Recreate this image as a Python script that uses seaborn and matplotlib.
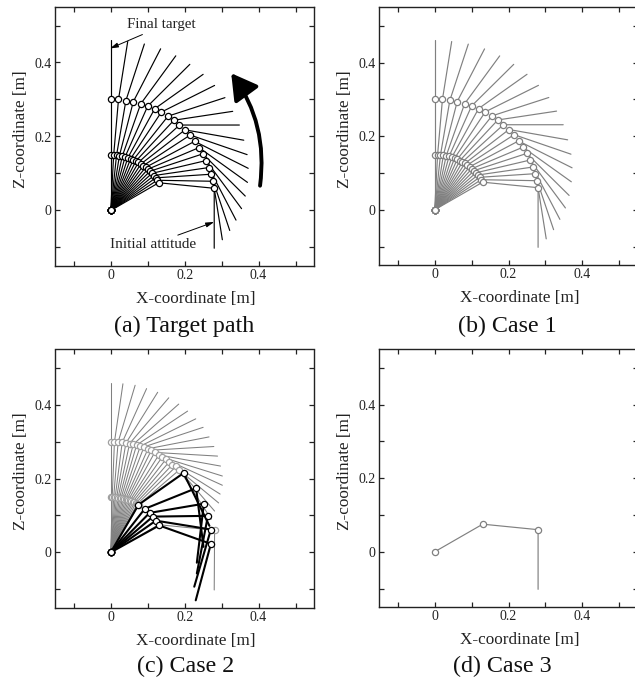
import numpy as np
import pandas as pd
import matplotlib
matplotlib.use("Agg")
import matplotlib.pyplot as plt
import seaborn as sns

# ---- target path (panels a, b): last pose = initial attitude
target_j1_x = [0, .0079, .0157, .0235, .0312, .0388, .0464, .0538, .0610, .0681, .0750, .0817, .0882, .0944, .1004, .1061, .1115, .1166, .1214, .1258, .1299]
target_j1_z = [.150, .1498, .1492, .1482, .1467, .1449, .1427, .1400, .1370, .1337, .1299, .1258, .1214, .1166, .1115, .1061, .1004, .0944, .0882, .0817, .0750]
target_j2_x = [0, .021, .041, .061, .081, .100, .119, .137, .155, .171, .186, .201, .215, .227, .239, .249, .258, .265, .271, .277, .280]
target_j2_z = [.300, .300, .297, .294, .288, .282, .275, .266, .255, .244, .231, .218, .204, .187, .170, .153, .135, .116, .098, .079, .060]
target_tip_x = [0, .046, .091, .135, .176, .214, .250, .281, .309, .330, .348, .360, .369, .372, .370, .364, .354, .339, .322, .302, .280]
target_tip_z = [.461, .457, .450, .437, .418, .395, .368, .338, .305, .268, .231, .190, .151, .114, .076, .039, .005, -.026, -.054, -.079, -.102]

# ---- case 2 reference path (grey)
case2_ref_j1_x = [0, .004, .008, .012, .016, .020, .024, .028, .032, .036, .040, .044, .048, .052, .056, .060, .064, .068, .072, .076, .130]
case2_ref_j1_z = [.150, .150, .1498, .1495, .1492, .1487, .1481, .1474, .1466, .1456, .1446, .1434, .1421, .1407, .1392, .1375, .1357, .1337, .1316, .1293, .075]
case2_ref_j2_x = [0, .010, .020, .031, .041, .051, .061, .070, .080, .090, .101, .110, .119, .130, .139, .149, .158, .167, .177, .186, .281]
case2_ref_j2_z = [.299, .299, .299, .298, .296, .295, .293, .291, .288, .286, .281, .277, .271, .264, .258, .252, .245, .238, .233, .224, .060]
case2_ref_tip_x = [0, .033, .066, .097, .127, .157, .184, .208, .230, .250, .266, .279, .289, .297, .302, .302, .296, .292, .281, .272, .280]
case2_ref_tip_z = [.459, .457, .453, .444, .434, .419, .402, .383, .362, .339, .313, .287, .261, .234, .207, .182, .158, .134, .112, .090, -.102]

# ---- case 2 result (black)
case2_j1_x = [.075, .092, .105, .114, .122, .131]
case2_j1_z = [.129, .118, .107, .097, .086, .073]
case2_j2_x = [.197, .231, .252, .263, .271, .271]
case2_j2_z = [.215, .174, .132, .099, .062, .023]
case2_tip_x = [.267, .251, .233, .233, .226, .230]
case2_tip_z = [.072, .015, -.028, -.057, -.093, -.130]

# ---- case 3: only the initial pose
case3_j1_x = [.130]
case3_j1_z = [.075]
case3_j2_x = [.280]
case3_j2_z = [.060]
case3_tip_x = [.280]
case3_tip_z = [-.102]

captions = ["(a) Target path", "(b) Case 1", "(c) Case 2", "(d) Case 3"]
x_label = "X-coordinate [m]"
z_label = "Z-coordinate [m]"
tick_major = [0, 0.2, 0.4]
tick_minor = [-0.1, 0.1, 0.3, 0.5]

W, H = 635, 679
sns.set_theme(style="ticks")
plt.rcParams["font.family"] = ["Liberation Serif", "DejaVu Serif"]


def frame(j1x, j1z, j2x, j2z, tx, tz):
    rows = []
    for i in range(len(j1x)):
        rows += [(i, 0.0, 0.0), (i, j1x[i], j1z[i]), (i, j2x[i], j2z[i]), (i, tx[i], tz[i])]
    return pd.DataFrame(rows, columns=["pose", "x", "z"])


def draw(ax, df, color, lw, z, edge=None):
    sns.lineplot(data=df, x="x", y="z", units="pose", estimator=None, sort=False,
                 color=color, lw=lw, ax=ax, zorder=z, legend=False)
    joints = df.groupby("pose").head(3)
    sns.scatterplot(data=joints, x="x", y="z", s=20, facecolor="white", edgecolor=edge or color,
                    linewidth=0.9, ax=ax, zorder=z + 0.5, legend=False)


def make_axes(l, r, t, b):
    ax = plt.gcf().add_axes([l / W, 1 - b / H, (r - l) / W, (b - t) / H])
    ax.set_xlim(-0.15, 0.55)
    ax.set_ylim(-0.15, 0.55)
    for axis in (ax.xaxis, ax.yaxis):
        axis.set_ticks(tick_major)
        axis.set_ticklabels(["0", "0.2", "0.4"])
        axis.set_ticks(tick_minor, minor=True)
    ax.tick_params(which="both", direction="in", top=True, right=True, length=3.6, width=0.9,
                   color="#222222", labelsize=10, labelcolor="#222222")
    ax.tick_params(axis="x", which="both", pad=2.2)
    ax.tick_params(axis="y", which="both", pad=2.8)
    for s in ax.spines.values():
        s.set_linewidth(1.0)
        s.set_color("#222222")
        s.set_visible(True)
    return ax


fig = plt.figure(figsize=(W / 100, H / 100), dpi=100)
GREY = "#808080"
LIGHT = "#a0a0a0"
BLACK = "#000000"

boxes = [(55.3, 314, 7, 266), (379.3, 637.8, 7.3, 265), (55.3, 314, 349.5, 607.7), (379.3, 637.8, 349.3, 607)]
axa, axb, axc, axd = [make_axes(*b) for b in boxes]

target = frame(target_j1_x, target_j1_z, target_j2_x, target_j2_z, target_tip_x, target_tip_z)
draw(axa, target, BLACK, 0.85, 3)
draw(axb, target, GREY, 0.85, 3)
draw(axc, frame(case2_ref_j1_x, case2_ref_j1_z, case2_ref_j2_x, case2_ref_j2_z, case2_ref_tip_x, case2_ref_tip_z), GREY, 0.75, 3, edge=LIGHT)
draw(axc, frame(case2_j1_x, case2_j1_z, case2_j2_x, case2_j2_z, case2_tip_x, case2_tip_z), BLACK, 1.5, 5)
draw(axd, frame(case3_j1_x, case3_j1_z, case3_j2_x, case3_j2_z, case3_tip_x, case3_tip_z), GREY, 0.85, 3)

for ax in (axa, axb, axc, axd):
    ax.set_xlabel(x_label, fontsize=12.3, color="#222222", labelpad=6.8, x=0.543)
    ax.set_ylabel(z_label, fontsize=12.3, color="#222222", labelpad=4, y=0.527)

# annotations in panel a
axa.annotate("Final target", xy=(-0.002, 0.438), xytext=(0.138, 0.502), fontsize=10.8, color="#222222",
             ha="center", va="center",
             arrowprops=dict(arrowstyle="-|>,head_length=0.45,head_width=0.13", lw=0.7, color="black",
                             shrinkA=0, shrinkB=0, relpos=(0.33, 0)), zorder=8)
axa.annotate("Initial attitude", xy=(0.280, -0.031), xytext=(0.115, -0.093), fontsize=11, color="#222222",
             ha="center", va="center",
             arrowprops=dict(arrowstyle="-|>,head_length=0.45,head_width=0.13", lw=0.7, color="black",
                             shrinkA=0, shrinkB=0, relpos=(0.68, 1)), zorder=8)
axa.annotate("", xy=(0.326, 0.371), xytext=(0.404, 0.067),
             arrowprops=dict(arrowstyle="-|>,head_length=1.3,head_width=0.75", lw=2.8, color="black",
                             shrinkA=0, shrinkB=0, connectionstyle="arc3,rad=0.2"), zorder=8)

# captions
cap_pos = [(184.5, 326.5), (507, 326.5), (185.5, 666.5), (502, 666.5)]
for txt, (cx, cy) in zip(captions, cap_pos):
    fig.text(cx / W, 1 - cy / H, txt, fontsize=17.3, ha="center", va="center", color="#111111")

fig.savefig("out.png", dpi=100)
